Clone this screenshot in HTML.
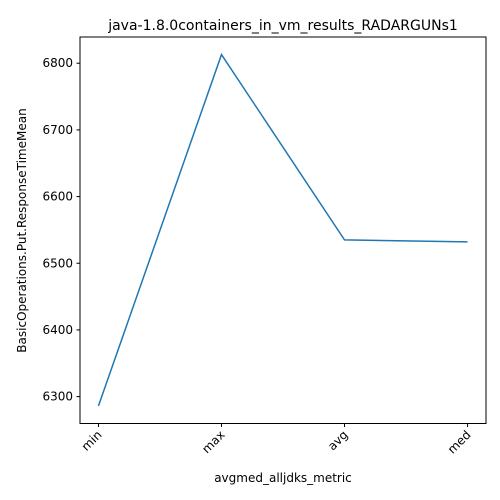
<!DOCTYPE html>
<html><head><meta charset="utf-8"><style>
html,body{margin:0;padding:0;background:#fff;overflow:hidden;}
svg{display:block;}
svg text{font-family:"DejaVu Sans","Liberation Sans",sans-serif;fill:#000;}
</style></head><body>
<svg id="chart" width="500" height="500" xmlns="http://www.w3.org/2000/svg">
<rect width="500" height="500" fill="#fff"/>
<text x="283" y="30" font-size="14" text-anchor="middle">java-1.8.0containers_in_vm_results_RADARGUNs1</text>
<g id="yticks"></g><g id="xticks"></g>
<path id="line" fill="none" stroke="#1f77b4" stroke-width="1.5"/>
<rect x="80" y="37" width="406" height="386.5" fill="none" stroke="#000" stroke-width="1"/>
<text x="283" y="482" font-size="12" text-anchor="middle">avgmed_alljdks_metric</text>
<text transform="translate(26,230.5) rotate(-90)" font-size="12" text-anchor="middle">BasicOperations.Put.ResponseTimeMean</text>
</svg>
<script>
const categories=["min","max","avg","med"];
const values=[6286,6813,6535,6532];
const yTicks=[6300,6400,6500,6600,6700,6800];
const L=80,R=486,T=37,B=423.5,NS="http://www.w3.org/2000/svg";
const mn=Math.min(...values),mx=Math.max(...values),pad=(mx-mn)*0.05;
const y0=mn-pad,y1=mx+pad;
const xs=i=>L+(i+0.15)/(categories.length-1+0.3)*(R-L);
const ys=v=>B-(v-y0)/(y1-y0)*(B-T);
const yg=document.getElementById('yticks'),xg=document.getElementById('xticks');
yTicks.forEach(t=>{const y=ys(t);
const l=document.createElementNS(NS,'line');l.setAttribute('x1',L-3.5);l.setAttribute('x2',L);l.setAttribute('y1',y);l.setAttribute('y2',y);l.setAttribute('stroke','#000');

yg.appendChild(l);
const tx=document.createElementNS(NS,'text');tx.setAttribute('x',L-7);tx.setAttribute('y',y+4);tx.setAttribute('font-size','12');tx.setAttribute('text-anchor','end');tx.textContent=t;

yg.appendChild(tx);});
categories.forEach((c,i)=>{const x=xs(i);
const l=document.createElementNS(NS,'line');l.setAttribute('x1',x);l.setAttribute('x2',x);l.setAttribute('y1',B);l.setAttribute('y2',B+3.5);l.setAttribute('stroke','#000');

xg.appendChild(l);
const tx=document.createElementNS(NS,'text');tx.setAttribute('font-size','12');tx.setAttribute('text-anchor','end');tx.setAttribute('transform',`translate(${x+4},${B+12}) rotate(-45)`);tx.textContent=c;

xg.appendChild(tx);});
document.getElementById('line').setAttribute('d',values.map((v,i)=>(i?'L':'M')+xs(i)+','+ys(v)).join(''));
</script>
</body></html>
